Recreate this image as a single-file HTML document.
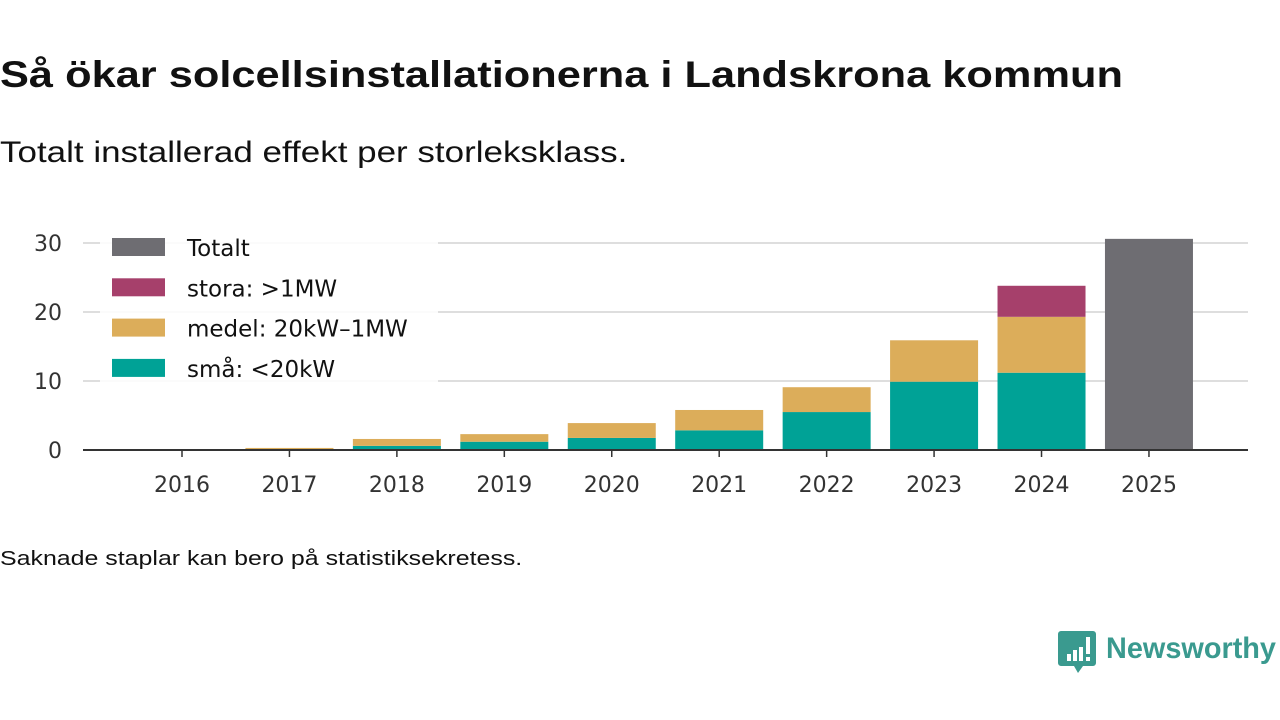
<!DOCTYPE html>
<html><head><meta charset="utf-8"><style>
body{margin:0;width:1280px;height:720px;background:#fff;font-family:"Liberation Sans","DejaVu Sans",sans-serif;color:#111;overflow:hidden;position:relative}
.t{position:absolute;left:0;top:54px;font-size:37px;font-weight:bold;margin:0;transform:scaleX(1.172);transform-origin:0 0;white-space:nowrap}
.s{position:absolute;left:0;top:136px;font-size:30px;transform:scaleX(1.166);transform-origin:0 0;white-space:nowrap}
.n{position:absolute;left:0;top:548px;font-size:20px;transform:scaleX(1.246);transform-origin:0 0;white-space:nowrap}
.logo{position:absolute;left:1058px;top:628px}
svg text{font-family:"DejaVu Sans","Liberation Sans",sans-serif}
</style></head><body>
<h1 class="t">Så ökar solcellsinstallationerna i Landskrona kommun</h1>
<div class="s">Totalt installerad effekt per storleksklass.</div>
<div class="n">Saknade staplar kan bero på statistiksekretess.</div>
<svg id="chart" width="1280" height="720" style="position:absolute;left:0;top:0"></svg>
<svg class="logo" width="222" height="48">
<path d="M3,3 h32 a3,3 0 0 1 3,3 v29 a3,3 0 0 1 -3,3 h-10 l-5,7 l-4,-7 h-13 a3,3 0 0 1 -3,-3 v-29 a3,3 0 0 1 3,-3z" fill="#3a9a8f"/>
<rect x="9" y="26" width="4" height="7" fill="#fff"/><rect x="15" y="22" width="4" height="11" fill="#fff"/><rect x="21" y="19" width="4" height="14" fill="#fff"/><rect x="28" y="9" width="4" height="17" fill="#fff"/><rect x="28" y="29" width="4" height="4" fill="#fff"/>
<text x="48" y="30" font-size="30" font-weight="bold" fill="#3a9a8f" textLength="170" lengthAdjust="spacingAndGlyphs" style="font-family:'Liberation Sans'">Newsworthy</text>
</svg>
<script>
const years=["2016","2017","2018","2019","2020","2021","2022","2023","2024","2025"];
const sma=[0,0.05,0.6,1.2,1.75,2.85,5.5,9.9,11.2,0];
const medel=[0,0.25,1.0,1.1,2.15,2.95,3.6,6.0,8.1,0];
const stora=[0,0,0,0,0,0,0,0,4.5,0];
const totalt=[0,0,0,0,0,0,0,0,0,30.6];
const yTicks=[0,10,20,30];
const NS="http://www.w3.org/2000/svg";
const svg=document.getElementById('chart');
const y0=450,ppu=6.9;
const y=v=>y0-v*ppu;
const xc=i=>182+i*107.44;
const bw=88;
function el(t,a){const e=document.createElementNS(NS,t);for(const k in a)e.setAttribute(k,a[k]);svg.appendChild(e);return e;}
yTicks.forEach(v=>{
 if(v>0){const g=el('line',{x1:83,x2:1248,y1:y(v),y2:y(v),stroke:'#dedede','stroke-width':2});
 
 }
 const t=el('text',{x:62,y:y(v)+8,'font-size':22,'text-anchor':'end',fill:'#333'});t.textContent=v;
 
 
});
const series=[[sma,'#00a296','sma'],[medel,'#dcad5a','medel'],[stora,'#a6406b','stora'],[totalt,'#6e6d72','totalt']];
years.forEach((yr,i)=>{
 let base=0;
 series.forEach(([arr,c,nm])=>{
  const v=arr[i];if(v<=0)return;
  const r=el('rect',{x:xc(i)-bw/2,y:y(base+v),width:bw,height:v*ppu,fill:c});
  
  
  base+=v;
 });
 const tk=el('line',{x1:xc(i),x2:xc(i),y1:450,y2:457,stroke:'#333','stroke-width':1.5});
 
 
 const t=el('text',{x:xc(i),y:492,'font-size':22,'text-anchor':'middle',fill:'#333'});t.textContent=yr;
 
 
});
const ax=el('line',{x1:83,x2:1248,y1:450,y2:450,stroke:'#333','stroke-width':2});


const lb=el('rect',{x:100,y:232,width:338,height:158,fill:'#fff','fill-opacity':0.88});


const leg=[['Totalt','#6e6d72'],['stora: >1MW','#a6406b'],['medel: 20kW–1MW','#dcad5a'],['små: <20kW','#00a296']];
leg.forEach(([l,c],k)=>{
 const r=el('rect',{x:112,y:238+k*40.3,width:53,height:18,fill:c});
 
 
 const t=el('text',{x:187,y:256+k*40.3,'font-size':23,fill:'#111'});t.textContent=l;
 
 
});
</script>
</body></html>
